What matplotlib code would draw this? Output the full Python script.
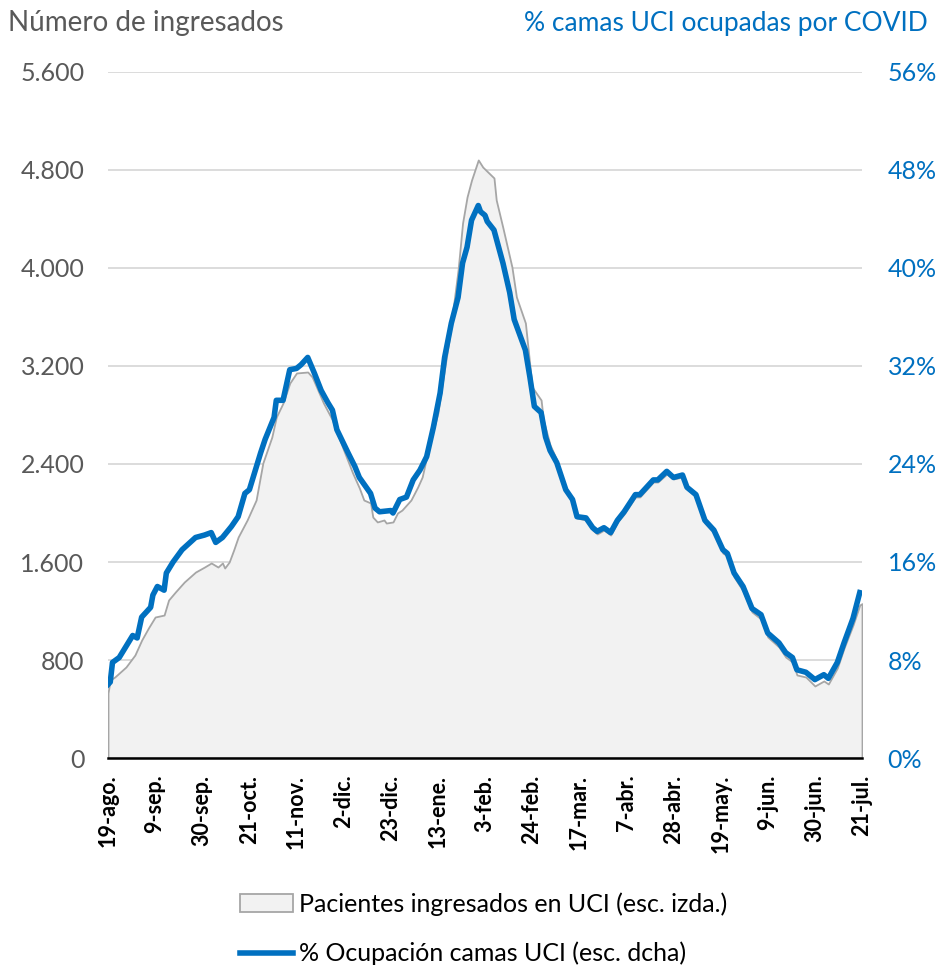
import numpy as np
import pandas as pd
import matplotlib
matplotlib.use('Agg')
import matplotlib.pyplot as plt
from matplotlib.patches import Patch
from matplotlib.lines import Line2D

plt.rcParams['font.family'] = ['Lato', 'DejaVu Sans']

start = pd.Timestamp('2020-08-19')

# ICU patients (left axis), days counted from 19-ago
uci_days = [0, 1, 3, 8, 12, 15, 18, 21, 25, 27, 30, 34, 39, 43, 46, 49, 51, 52, 54, 56, 58,
            62, 66, 69, 73, 75, 78, 81, 84, 89, 91, 96, 100, 105, 109, 112, 114, 117, 118, 120,
            123, 124, 127, 129, 131, 135, 138, 140, 143, 147, 149, 152, 156, 158, 160, 162, 165,
            167, 172, 173, 176, 180, 182, 186, 189, 193, 194, 197, 200, 204, 207, 209, 213, 216,
            218, 221, 224, 227, 230, 235, 237, 243, 245, 249, 252, 256, 258, 262, 266, 270, 274,
            276, 279, 283, 287, 291, 294, 299, 302, 305, 307, 311, 315, 319, 321, 325, 328, 332, 335, 336]
uci_pacientes = [531, 637, 661, 743, 841, 963, 1061, 1151, 1167, 1290, 1355, 1437, 1518, 1559, 1592,
                 1559, 1592, 1551, 1600, 1698, 1804, 1943, 2106, 2408, 2620, 2784, 2898, 3061, 3143,
                 3151, 3110, 2898, 2759, 2514, 2327, 2204, 2106, 2082, 1967, 1927, 1943, 1918, 1927,
                 2000, 2024, 2106, 2212, 2294, 2539, 2816, 3061, 3412, 3984, 4367, 4580, 4718, 4882,
                 4824, 4735, 4555, 4326, 4008, 3763, 3551, 3028, 2922, 2759, 2555, 2433, 2204, 2106,
                 1959, 1943, 1861, 1829, 1861, 1820, 1927, 1992, 2131, 2131, 2253, 2253, 2318, 2278,
                 2294, 2196, 2131, 1918, 1837, 1673, 1649, 1478, 1363, 1192, 1135, 988, 906, 824,
                 784, 678, 661, 588, 629, 604, 735, 898, 1086, 1249, 1260]

# ICU occupancy % (right axis)
ocup_days = [0, 1, 2, 5, 8, 11, 13, 15, 19, 20, 22, 25, 26, 29, 33, 39, 43, 46, 48, 51, 55, 58, 61,
             63, 68, 70, 74, 75, 78, 81, 84, 86, 89, 92, 95, 98, 100, 102, 107, 110, 112, 117, 119,
             121, 126, 127, 130, 133, 136, 139, 142, 145, 148, 150, 153, 156, 158, 160, 162, 165,
             166, 168, 169, 172, 176, 179, 181, 186, 188, 190, 193, 195, 197, 200, 204, 207, 209,
             213, 216, 218, 221, 224, 227, 230, 235, 237, 243, 245, 249, 252, 256, 258, 262, 266,
             270, 274, 276, 279, 283, 287, 291, 294, 299, 302, 305, 307, 311, 315, 319, 321, 325,
             328, 332, 335]
ocup_pct = [6.0, 6.2, 7.8, 8.2, 9.1, 10.0, 9.8, 11.5, 12.3, 13.3, 14.0, 13.7, 15.1, 16.0, 17.0,
            18.0, 18.2, 18.4, 17.6, 18.0, 18.9, 19.7, 21.6, 21.9, 24.9, 26.0, 27.8, 29.2, 29.2,
            31.7, 31.8, 32.1, 32.7, 31.4, 30.0, 29.0, 28.4, 26.8, 24.9, 23.8, 22.9, 21.6, 20.4,
            20.1, 20.2, 20.0, 21.1, 21.3, 22.7, 23.5, 24.6, 27.0, 29.8, 32.7, 35.5, 37.6, 40.4,
            41.7, 43.9, 45.1, 44.6, 44.3, 43.8, 43.1, 40.4, 38.0, 35.8, 33.3, 31.1, 28.7, 28.2,
            26.2, 25.1, 24.1, 21.9, 21.1, 19.7, 19.6, 18.8, 18.5, 18.8, 18.4, 19.4, 20.1, 21.5,
            21.5, 22.7, 22.7, 23.4, 22.9, 23.1, 22.1, 21.5, 19.4, 18.6, 17.0, 16.7, 15.1, 14.0,
            12.2, 11.7, 10.2, 9.4, 8.6, 8.2, 7.2, 7.0, 6.4, 6.8, 6.5, 7.8, 9.4, 11.4, 13.5]

tick_labels = ['19-ago.', '9-sep.', '30-sep.', '21-oct.', '11-nov.', '2-dic.', '23-dic.',
               '13-ene.', '3-feb.', '24-feb.', '17-mar.', '7-abr.', '28-abr.', '19-may.',
               '9-jun.', '30-jun.', '21-jul.']

uci_dates = start + pd.to_timedelta(uci_days, unit='D')
ocup_dates = start + pd.to_timedelta(ocup_days, unit='D')
tick_dates = pd.date_range(start, periods=len(tick_labels), freq='21D')

gray_txt = '#595959'
blue = '#0070C0'

fig = plt.figure(figsize=(9.38, 9.66), dpi=100)
ax = fig.add_axes([108/938, 1-758/966, (862-108)/938, (758-72)/966])
ax2 = ax.twinx()

ax.fill_between(uci_dates, uci_pacientes, 0, facecolor='#F2F2F2', edgecolor='#A6A6A6',
                linewidth=1.3, zorder=2)
ax.set_ylim(0, 5600)
ax.set_yticks(np.arange(0, 5601, 800))
ax.set_yticklabels([f'{v:,}'.replace(',', '.') for v in range(0, 5601, 800)])
ax.grid(axis='y', color='#D9D9D9', linewidth=1.3, zorder=0)
ax.set_axisbelow(True)

ax2.plot(ocup_dates, ocup_pct, color=blue, linewidth=4, solid_joinstyle='round', zorder=3)
ax2.set_ylim(0, 56)
ax2.set_yticks(np.arange(0, 57, 8))
ax2.set_yticklabels([f'{v}%' for v in range(0, 57, 8)])

ax.set_xlim(tick_dates[0], tick_dates[-1])
ax.set_xticks(tick_dates)
ax.set_xticklabels(tick_labels, rotation=90, fontweight='bold', fontsize=15.5)

for a in (ax, ax2):
    for s in ['top', 'right', 'left', 'bottom']:
        a.spines[s].set_visible(False)
ax.spines['bottom'].set_visible(True)
ax.spines['bottom'].set_linewidth(1.8)
ax.spines['bottom'].set_color('black')
ax.spines['bottom'].set_zorder(5)

ax.tick_params(axis='y', length=0, pad=17, labelsize=18, labelcolor=gray_txt)
ax.tick_params(axis='x', length=0, pad=12)
ax2.tick_params(axis='y', length=0, pad=18.5, labelsize=18, labelcolor=blue)

fig.text(8/938, 1-23/966, 'Número de ingresados', fontsize=20, color=gray_txt, va='center')
fig.text(928/938, 1-23/966, '% camas UCI ocupadas por COVID', fontsize=19, color=blue,
         va='center', ha='right')

handles = [Patch(facecolor='#F2F2F2', edgecolor='#A6A6A6', linewidth=1.3),
           Line2D([0], [0], color=blue, linewidth=4)]
labels = ['Pacientes ingresados en UCI (esc. izda.)', '% Ocupación camas UCI (esc. dcha)']
fig.legend(handles, labels, loc='upper left', bbox_to_anchor=(240/938, 1-892/966),
           frameon=False, fontsize=18, handlelength=2.1, handletextpad=0.25,
           labelspacing=1.05, borderpad=0, borderaxespad=0)

fig.savefig('out.png', dpi=100)
